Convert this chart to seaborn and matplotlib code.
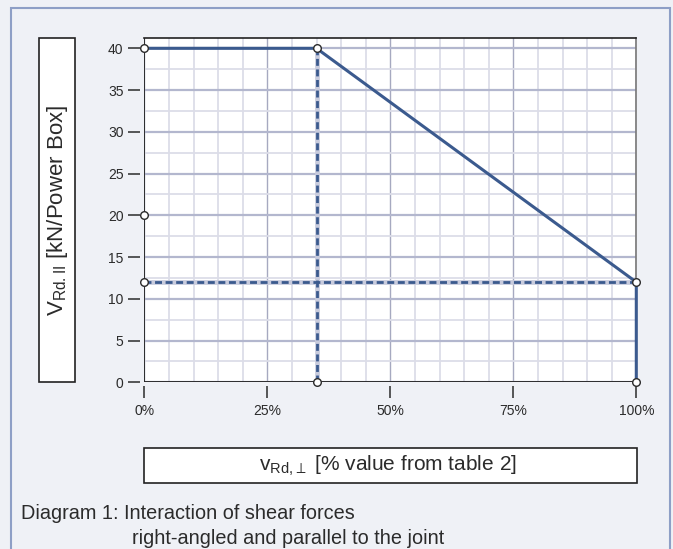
import matplotlib
matplotlib.use("Agg")
import matplotlib.pyplot as plt
import matplotlib.patches as patches
import seaborn as sns
import pandas as pd

# interaction curve (x = % of V_Rd,perp, y = V_Rd,II in kN)
curve_x = [0, 35, 100, 100]
curve_y = [40, 40, 12, 0]
# dashed helper lines
vline_x = [35, 35]
vline_y = [0, 40]
hline_x = [0, 100]
hline_y = [12, 12]
# open circle markers
marker_x = [0, 35, 0, 0, 35, 100, 100]
marker_y = [40, 40, 20, 12, 0, 12, 0]

x_ticks = [0, 25, 50, 75, 100]
x_labels = ["0%", "25%", "50%", "75%", "100%"]
y_ticks = [0, 5, 10, 15, 20, 25, 30, 35, 40]

sns.set_theme(style="white")
plt.rcParams["font.family"] = ["Liberation Sans", "DejaVu Sans"]
plt.rcParams["mathtext.fontset"] = "custom"
plt.rcParams["mathtext.rm"] = "Liberation Sans"

W, H = 673, 549
def fx(px):
    return px / W
def fy(py):
    return 1 - py / H

line_col = "#3b5a8e"
txt_col = "#2b2b2b"

fig = plt.figure(figsize=(6.73, 5.49), dpi=100, facecolor="#eff1f6")
ax = fig.add_axes([fx(144.3), fy(382.3), fx(636.3) - fx(144.3), fy(38.3) - fy(382.3)])
ax.set_facecolor("white")

# dashed lines with a light halo
for xs, ys in [(vline_x, vline_y), (hline_x, hline_y)]:
    ax.plot(xs, ys, color="#c8cbdd", lw=3.4, solid_capstyle="butt", zorder=3)
    ax.plot(xs, ys, color=line_col, lw=2.0, dashes=(2.5, 1.3), zorder=4)

df = pd.DataFrame({"x": curve_x, "y": curve_y})
sns.lineplot(data=df, x="x", y="y", sort=False, estimator=None, color=line_col,
             lw=2.2, ax=ax, zorder=5, clip_on=False)

mk = pd.DataFrame({"x": marker_x, "y": marker_y})
sns.scatterplot(data=mk, x="x", y="y", ax=ax, s=30, color="white",
                edgecolor="#2a2a2a", linewidth=1.0, zorder=6, clip_on=False)
ax.set_xlabel("")
ax.set_ylabel("")

ax.set_xlim(0, 100)
ax.set_ylim(0, 41.2)
ax.set_xticks(x_ticks)
ax.set_xticklabels(x_labels)
ax.set_yticks(y_ticks)
ax.set_xticks(range(0, 101, 5), minor=True)
ax.set_yticks([i * 2.5 for i in range(17)], minor=True)

ax.grid(which="minor", color="#dcdde8", lw=1.3)
ax.grid(which="major", axis="y", color="#b3b7ce", lw=1.6)
ax.grid(which="major", axis="x", color="#a6a9c0", lw=1.0)
ax.set_axisbelow(True)

ax.tick_params(which="minor", length=0)
ax.tick_params(which="major", direction="out", length=8.5, width=1.1,
               bottom=True, left=True, color=txt_col, labelcolor=txt_col,
               labelsize=10)
ax.tick_params(axis="y", pad=3.5)
ax.tick_params(axis="x", pad=4)

# offset ticks from the frame like the reference
for side in ["left", "bottom"]:
    ax.spines[side].set_position(("outward", 3))
    ax.spines[side].set_visible(False)
ax.spines["top"].set_color("#222222")
ax.spines["top"].set_linewidth(1.2)
ax.spines["right"].set_color("#777777")
ax.spines["right"].set_linewidth(1.2)
ax.axvline(0, color="#222222", lw=1.3, zorder=2)
ax.axhline(0, color="#222222", lw=1.3, zorder=2)

# outer frame
fig.add_artist(patches.Rectangle((fx(11), fy(600)), fx(670) - fx(11), fy(8) - fy(600),
                                 transform=fig.transFigure, fill=False,
                                 edgecolor="#8e9fc6", lw=1.5))

# y label box
fig.add_artist(patches.Rectangle((fx(39.3), fy(382.3)), fx(75.3) - fx(39.3),
                                 fy(38.3) - fy(382.3), transform=fig.transFigure,
                                 facecolor="white", edgecolor="#222222", lw=1.2))
fig.text(fx(57.8), fy(210.3), r"$\mathregular{V_{Rd.II}}$ [kN/Power Box]",
         rotation=90, ha="center", va="center", fontsize=16, color=txt_col)

# x label box
fig.add_artist(patches.Rectangle((fx(144.3), fy(483.3)), fx(636.7) - fx(144.3),
                                 fy(448.3) - fy(483.3), transform=fig.transFigure,
                                 facecolor="white", edgecolor="#222222", lw=1.2))
fig.text(fx(388), fy(465.8), r"$\mathregular{v_{Rd{,}\perp}}$ [% value from table 2]",
         ha="center", va="center", fontsize=15, color=txt_col)

fig.text(fx(20.7), fy(519), "Diagram 1: Interaction of shear forces",
         va="baseline", ha="left", fontsize=14.3, color=txt_col)
fig.text(fx(132), fy(544), "right-angled and parallel to the joint",
         va="baseline", ha="left", fontsize=14.3, color=txt_col)

fig.savefig("out.png", dpi=100, facecolor=fig.get_facecolor())
